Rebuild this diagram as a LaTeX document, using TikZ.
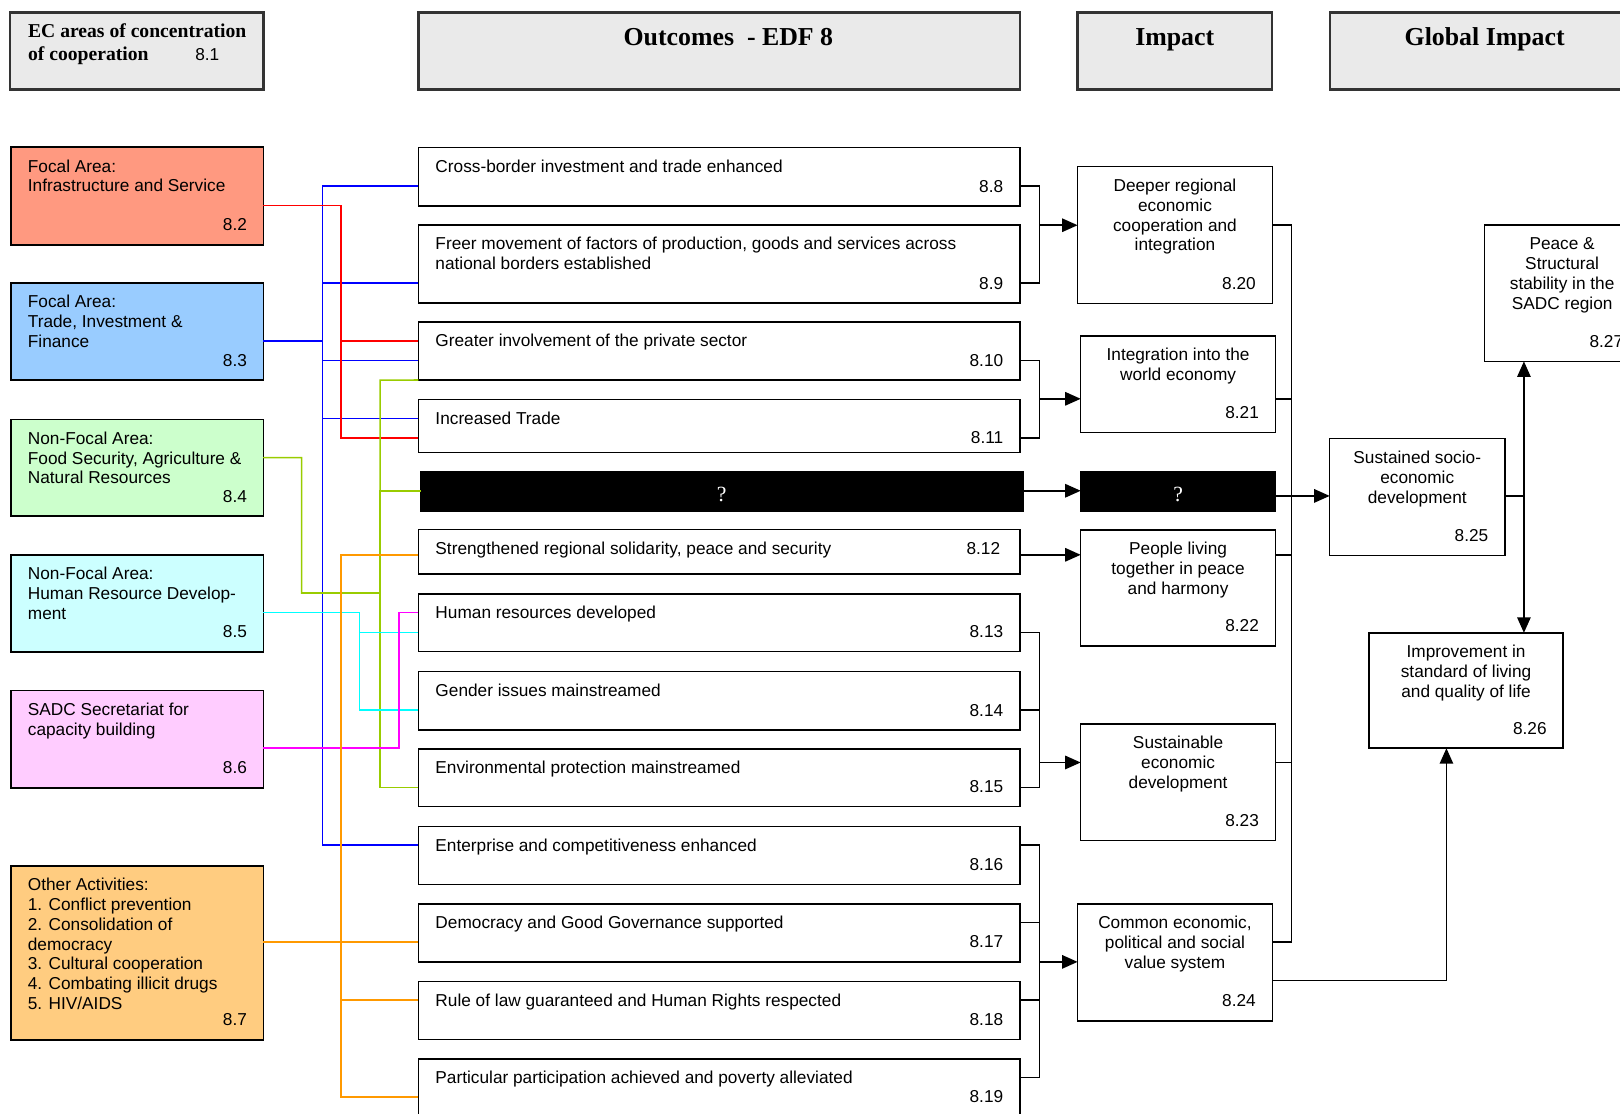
\documentclass[tikz,border=0pt]{standalone}
\usepackage{fontspec}
\setmainfont{Liberation Sans}
\newfontfamily\serifhead{Liberation Serif}
\usetikzlibrary{arrows.meta,fit}

\definecolor{hdrfill}{HTML}{EAEAEA}
\definecolor{salmon}{HTML}{FF9980}
\definecolor{paleblue}{HTML}{99CCFF}
\definecolor{palegreen}{HTML}{CCFFCC}
\definecolor{paleturq}{HTML}{CCFFFF}
\definecolor{palepink}{HTML}{FFCCFF}
\definecolor{paleorange}{HTML}{FFCC80}
\definecolor{lnred}{HTML}{FF0000}
\definecolor{lnblue}{HTML}{0000FF}
\definecolor{lngreen}{HTML}{99CC00}
\definecolor{lncyan}{HTML}{00FFFF}
\definecolor{lnmag}{HTML}{FF00FF}
\definecolor{lnorange}{HTML}{FF9900}

\newcommand\bodysize{\fontsize{16.7}{19.2}\selectfont}

\tikzset{
  frame/.style={draw=black, line width=1.5pt, inner sep=0pt, outer sep=0pt, fill=white},
  hdr/.style={frame, draw=black!80, line width=2.2pt, fill=hdrfill},
  blk/.style={frame, fill=black},
  txt/.style={inner sep=0pt, outer sep=0pt, font=\bodysize, align=left, anchor=base west},
  num/.style={inner sep=0pt, outer sep=0pt, font=\bodysize, anchor=base east},
  title/.style={inner sep=0pt, anchor=base, font=\serifhead\bfseries\fontsize{25}{29}\selectfont},
  qmark/.style={inner sep=0pt, text=white, font=\serifhead\fontsize{21}{24}\selectfont},
  lnk/.style={line width=1.5pt},
  arr/.style={lnk, -{Triangle[length=15pt,width=13pt]}},
}

% box with left-aligned text (first baseline 24pt below the top edge)
% and a number in the lower right corner
\newcommand\lefttext[4][13.5]{%
  \node[txt, anchor=north west] (#2t) at ([xshift=16.5pt,yshift=-10.56pt]#2.north west) {\strut #3};
  \node[num] (#2n) at ([xshift=-16pt,yshift=#1pt]#2.south east) {#4};}
% box with centred text and a number in the lower right corner
\newcommand\midtext[4][13.5]{%
  \node[txt, align=center, anchor=north] (#2t) at ([yshift=-10.56pt]#2.north) {\strut #3};
  \node[num] (#2n) at ([xshift=-16pt,yshift=#1pt]#2.south east) {#4};}

\begin{document}
\begin{tikzpicture}[x=1pt,y=-1pt]
\useasboundingbox (0,0) rectangle (1568,1078);
\clip (0,0) rectangle (1568,1078);

% ---------- column headers ----------
\node[hdr, fit={(10,12) (255,86.5)}] (hec) {};
\node[hdr, fit={(405,12) (987,86.5)}] (hout) {};
\node[hdr, fit={(1043,12) (1231,86.5)}] (himp) {};
\node[hdr, fit={(1287,12) (1587,86.5)}] (hglob) {};
\node[inner sep=0pt, anchor=base west, align=left,
      font=\serifhead\bfseries\fontsize{19}{22}\selectfont] (hect) at (27,58.5)
      {EC areas of concentration\\of cooperation};
\node[txt] (hecn) at (189,58.5) {8.1};
\node[title] (houtt) at (705,44) {Outcomes\ \ - EDF 8};
\node[title] (himpt) at (1137,44) {Impact};
\node[title] (hglobt) at (1437,44) {Global Impact};

% ---------- areas of cooperation ----------
\node[frame, fill=salmon,     fit={(10.5,142.5) (255,237)}] (f2) {};
\node[frame, fill=paleblue,   fit={(10.5,274) (255,368)}] (f3) {};
\node[frame, fill=palegreen,  fit={(10.5,406) (255,499.5)}] (f4) {};
\node[frame, fill=paleturq,   fit={(10.5,537) (255,631)}] (f5) {};
\node[frame, fill=palepink,   fit={(10.5,668.5) (255,762.5)}] (f6) {};
\node[frame, fill=paleorange, fit={(10.5,838) (255,1006.5)}] (f7) {};
\lefttext{f2}{Focal Area:\\Infrastructure and Service}{8.2}
\lefttext{f3}{Focal Area:\\Trade, Investment \&\\Finance}{8.3}
\lefttext{f4}{Non-Focal Area:\\Food Security, Agriculture \&\\Natural Resources}{8.4}
\lefttext{f5}{Non-Focal Area:\\Human Resource Develop-\\ment}{8.5}
\lefttext{f6}{SADC Secretariat for\\capacity building}{8.6}
\lefttext{f7}{Other Activities:\\1. Conflict prevention\\2. Consolidation of\\democracy\\3. Cultural cooperation\\4. Combating illicit drugs\\5. HIV/AIDS}{8.7}

% ---------- outcomes ----------
\node[frame, fit={(405,142.6) (987,199.4)}] (o8) {};
\node[frame, fit={(405,217.8) (987,293.3)}] (o9) {};
\node[frame, fit={(405,311.7) (987,367.8)}] (o10) {};
\node[frame, fit={(405,386.8) (987,438.1)}] (o11) {};
\node[blk,   fit={(407,456.5) (990,494.6)}] (ob) {};
\node[frame, fit={(405,512.3) (987,555.6)}] (o12) {};
\node[frame, fit={(405,575) (987,630.7)}] (o13) {};
\node[frame, fit={(405,650) (987,706.6)}] (o14) {};
\node[frame, fit={(405,725) (987,780.8)}] (o15) {};
\node[frame, fit={(405,800) (987,856)}] (o16) {};
\node[frame, fit={(405,875) (987,931)}] (o17) {};
\node[frame, fit={(405,950) (987,1006)}] (o18) {};
\node[frame, fit={(405,1025) (987,1081)}] (o19) {};
\lefttext{o8}{Cross-border investment and trade enhanced}{8.8}
\lefttext{o9}{Freer movement of factors of production, goods and services across\\national borders established}{8.9}
\lefttext{o10}{Greater involvement of the private sector}{8.10}
\lefttext[9]{o11}{Increased Trade}{8.11}
\node[qmark] (obq) at ([yshift=-3pt]ob.center) {?};
\node[txt] (o12t) at ([xshift=16.5pt,yshift=-24pt]o12.north west) {Strengthened regional solidarity, peace and security};
\node[num] (o12n) at ([xshift=-19pt,yshift=-24pt]o12.north east) {8.12};
\lefttext{o13}{Human resources developed}{8.13}
\lefttext{o14}{Gender issues mainstreamed}{8.14}
\lefttext{o15}{Environmental protection mainstreamed}{8.15}
\lefttext{o16}{Enterprise and competitiveness enhanced}{8.16}
\lefttext{o17}{Democracy and Good Governance supported}{8.17}
\lefttext{o18}{Rule of law guaranteed and Human Rights respected}{8.18}
\lefttext{o19}{Particular participation achieved and poverty alleviated}{8.19}

% ---------- impact ----------
\node[frame, fit={(1043,161.3) (1231.5,293.6)}] (i20) {};
\node[frame, fit={(1046,325.2) (1234.5,418.8)}] (i21) {};
\node[blk,   fit={(1046,456.5) (1234.5,494.6)}] (ib) {};
\node[frame, fit={(1046,513) (1234.5,625.2)}] (i22) {};
\node[frame, fit={(1046,700.7) (1234.5,813.7)}] (i23) {};
\node[frame, fit={(1043,875) (1231.5,988)}] (i24) {};
\midtext{i20}{Deeper regional\\economic\\cooperation and\\integration}{8.20}
\midtext{i21}{Integration into the\\world economy}{8.21}
\node[qmark] (ibq) at ([yshift=-3pt]ib.center) {?};
\midtext{i22}{People living\\together in peace\\and harmony}{8.22}
\midtext{i23}{Sustainable\\economic\\development}{8.23}
\midtext{i24}{Common economic,\\political and social\\value system}{8.24}

% ---------- global impact ----------
\node[frame, fit={(1287,424.5) (1456.5,537.5)}] (g25) {};
\node[frame, fit={(1325,612.5) (1513,724.2)}] (g26) {};
\node[frame, fit={(1437,217.8) (1587,349.8)}] (g27) {};
\midtext{g25}{Sustained socio-\\economic\\development}{8.25}
\midtext{g26}{Improvement in\\standard of living\\and quality of life}{8.26}
\midtext{g27}{Peace \&\\Structural\\stability in the\\SADC region}{8.27}

% ---------- coloured links: areas -> outcomes ----------
\foreach \t/\y in {o8/180,o9/274,o10/349,o11/405,o16/818}
  \draw[lnk, lnblue] (f3.east |- 0,330) -| (312,\y) -- (\t.west |- 0,\y);
\foreach \t/\y in {o10/330,o11/424}
  \draw[lnk, lnred] (f2.east |- 0,199) -| (330,\y) -- (\t.west |- 0,\y);
\draw[lnk, lngreen] (f4.east |- 0,443) -| (292,574) -| (368,368) -- (o10.south west);
\draw[lnk, lngreen] (f4.east |- 0,443) -| (292,574) -| (368,762) -- (o15.west |- 0,762);
\draw[lnk, lngreen] (f4.east |- 0,443) -| (292,574) -| (368,475) -- (ob.west |- 0,475);
\foreach \t/\y in {o13/612,o14/687}
  \draw[lnk, lncyan] (f5.east |- 0,593) -| (348,\y) -- (\t.west |- 0,\y);
\draw[lnk, lnmag] (f6.east |- 0,724) -| (386,593) -- (o13.west |- 0,593);
\draw[lnk, lnorange] (f7.east |- 0,912) -- (o17.west |- 0,912);
\foreach \t/\y in {o12/537,o18/968,o19/1062}
  \draw[lnk, lnorange] (f7.east |- 0,912) -| (330,\y) -- (\t.west |- 0,\y);

% ---------- outcomes -> impact ----------
\draw[lnk] (o9.east |- 0,274) -| (1006,218);
\draw[arr] (o8.east |- 0,180) -| (1006,218) -- (i20.west |- 0,218);
\draw[lnk] (o11.east |- 0,424) -| (1006,386);
\draw[arr] (o10.east |- 0,349) -| (1006,386) -- (i21.west |- 0,386);
\draw[arr] (ob.east |- 0,475) -- (ib.west |- 0,475);
\draw[arr] (o12.east |- 0,537) -- (i22.west |- 0,537);
\draw[lnk] (o13.east |- 0,612) -| (1006,738);
\draw[lnk] (o15.east |- 0,762) -| (1006,738);
\draw[arr] (o14.east |- 0,687) -| (1006,738) -- (i23.west |- 0,738);
\draw[lnk] (o16.east |- 0,818) -| (1006,931);
\draw[lnk] (o18.east |- 0,968) -| (1006,931);
\draw[lnk] (o19.east |- 0,1043) -| (1006,931);
\draw[arr] (o17.east |- 0,893) -| (1006,931) -- (i24.west |- 0,931);

% ---------- impact -> global impact ----------
\foreach \t/\y in {i20/218,i21/386,i22/537,i23/738,i24/912}
  \draw[lnk] (\t.east |- 0,\y) -| (1250,480);
\draw[arr] (ib.east |- 0,480) -- (g25.west |- 0,480);
\draw[arr] (g25.east |- 0,480) -| (g27.south -| 1475,0);
\draw[arr] (g25.east |- 0,480) -| (g26.north -| 1475,0);
\draw[arr] (i24.east |- 0,949) -| (g26.south -| 1400,0);
\end{tikzpicture}
\end{document}
